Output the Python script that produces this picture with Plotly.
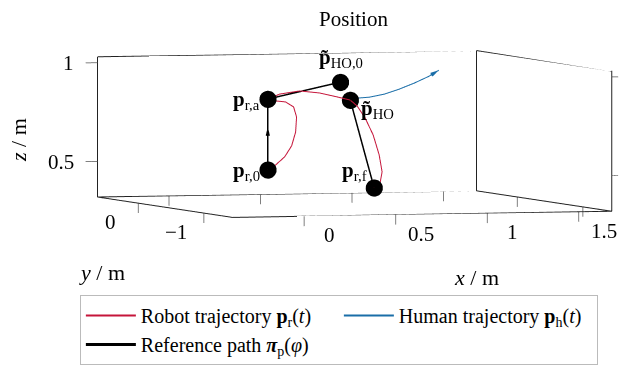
import plotly.graph_objects as go

# frame (axis limits) and ticks
x_lim = [-0.39, 1.68]
y_lim = [-1.44, 0.62]
z_lim = [0.32, 1.03]
x_ticks = [0, 0.5, 1, 1.5]
y_ticks = [-1, 0]
z_ticks = [0.5, 1]
x_ticktext = ["0", "0.5", "1", "1.5"]
y_ticktext = ["−1", "0"]
z_ticktext = ["0.5", "1"]

# robot trajectory p_r(t)
robot_x = [0.21, 0.253, 0.302, 0.34, 0.362, 0.367, 0.351, 0.307, 0.253, 0.21,
           0.289, 0.412, 0.535, 0.647, 0.732,
           0.745, 0.763, 0.782, 0.786, 0.777, 0.741, 0.683]
robot_y = [-0.3, -0.3, -0.3, -0.3, -0.3, -0.3, -0.3, -0.3, -0.3, -0.3,
           -0.26, -0.22, -0.18, -0.14, -0.1,
           -0.17, -0.24, -0.31, -0.39, -0.46, -0.53, -0.6]
robot_z = [0.495, 0.519, 0.559, 0.614, 0.684, 0.760, 0.811, 0.837, 0.843, 0.853,
           0.875, 0.887, 0.873, 0.849, 0.83,
           0.803, 0.746, 0.663, 0.566, 0.484, 0.433, 0.412]

# human trajectory p_h(t)
human_x = [0.765, 0.836, 0.917, 0.999, 1.08, 1.162, 1.216]
human_y = [-0.1, -0.1, -0.1, -0.1, -0.1, -0.1, -0.1]
human_z = [0.839, 0.843, 0.857, 0.881, 0.910, 0.944, 0.974]

# reference path pi_p(phi)
ref_x = [0.21, 0.21, 0.714, None, 0.732, 0.683]
ref_y = [-0.3, -0.3, 0.0, None, -0.1, -0.6]
ref_z = [0.495, 0.853, 0.916, None, 0.83, 0.412]

# direction arrows (reference path midpoint, human trajectory end)
ref_arrow = dict(x=[0.21], y=[-0.3], z=[0.69], u=[0.0], v=[0.0], w=[1.0])
human_arrow = dict(x=[1.216], y=[-0.1], z=[0.974], u=[0.87], v=[0.0], w=[0.49])

# key points
pt_x = [0.21, 0.21, 0.714, 0.732, 0.683]
pt_y = [-0.3, -0.3, 0.0, -0.1, -0.6]
pt_z = [0.495, 0.853, 0.916, 0.83, 0.412]
pt_labels = ["<b>p</b><sub>r,0</sub>", "<b>p</b><sub>r,a</sub>",
             "<b>p̃</b><sub>HO,0</sub>", "<b>p̃</b><sub>HO</sub>",
             "<b>p</b><sub>r,f</sub>"]

RED = "#c5153a"
BLUE = "#1a6ea8"
SERIF = "Liberation Serif"
TICKC = "#555"

# plotly axis ranges: frame limits plus room for outside tick marks
x_range = [x_lim[0] - 0.08, x_lim[1] + 0.04]
y_range = list(y_lim)
z_range = [z_lim[0] - 0.06, z_lim[1]]
tick_z = 0.05      # length of x/y tick marks (z direction)
tick_xl = 0.065    # z tick marks on left edge
tick_xr = 0.035    # z tick marks on right edge

fig = go.Figure()

# box frame built from axis limits
x0, x1 = x_lim
y0, y1 = y_lim
z0, z1 = z_lim
fx = [x0, x0, x0, x1, x1, x1, x0, None, x0, x1, x1, None, x1, x1]
fy = [y1, y1, y0, y0, y0, y1, y1, None, y1, y1, y0, None, y1, y1]
fz = [z1, z0, z0, z0, z1, z1, z1, None, z0, z0, z0, None, z0, z1]
fig.add_trace(go.Scatter3d(x=fx, y=fy, z=fz, mode="lines",
                           line=dict(color="#222", width=2),
                           showlegend=False, hoverinfo="skip"))

# tick marks built from tick values
tx, ty, tz = [], [], []
for t in x_ticks:
    for yy in (y0, y1):
        tx += [t, t, None]; ty += [yy, yy, None]; tz += [z0, z0 - tick_z, None]
for t in y_ticks:
    for xx in (x0, x1):
        tx += [xx, xx, None]; ty += [t, t, None]; tz += [z0, z0 - tick_z, None]
for t in z_ticks:
    tx += [x0, x0 - tick_xl, None]; ty += [y1, y1, None]; tz += [t, t, None]
    tx += [x1, x1 + tick_xr, None]; ty += [y0, y0, None]; tz += [t, t, None]
fig.add_trace(go.Scatter3d(x=tx, y=ty, z=tz, mode="lines",
                           line=dict(color=TICKC, width=1.5),
                           showlegend=False, hoverinfo="skip"))

fig.add_trace(go.Scatter3d(x=robot_x, y=robot_y, z=robot_z, mode="lines",
                           line=dict(color=RED, width=2),
                           name="Robot trajectory <b>p</b><sub>r</sub>(<i>t</i>)"))
fig.add_trace(go.Scatter3d(x=human_x, y=human_y, z=human_z, mode="lines",
                           line=dict(color=BLUE, width=2),
                           name="Human trajectory <b>p</b><sub>h</sub>(<i>t</i>)"))
fig.add_trace(go.Scatter3d(x=ref_x, y=ref_y, z=ref_z, mode="lines",
                           line=dict(color="black", width=3),
                           name="Reference path <b><i>π</i></b><sub>p</sub>(<i>φ</i>)"))
flat = dict(ambient=1, diffuse=0, specular=0, roughness=1, fresnel=0)
fig.add_trace(go.Cone(**ref_arrow, sizemode="absolute", sizeref=0.045, anchor="center",
                      colorscale=[[0, "black"], [1, "black"]], showscale=False,
                      lighting=flat, hoverinfo="skip", showlegend=False))
fig.add_trace(go.Cone(**human_arrow, sizemode="absolute", sizeref=0.045, anchor="tip",
                      colorscale=[[0, BLUE], [1, BLUE]], showscale=False,
                      lighting=flat, hoverinfo="skip", showlegend=False))
fig.add_trace(go.Scatter3d(x=pt_x, y=pt_y, z=pt_z, mode="markers",
                           marker=dict(color="black", size=10),
                           showlegend=False))

anns = []
shifts = [(-6, 0, "right", "middle"), (-6, 0, "right", "middle"),
          (0, 10, "center", "bottom"), (8, -8, "left", "middle"),
          (-5, 2, "right", "bottom")]
for i in range(len(pt_x)):
    xs, ys, xa, ya = shifts[i]
    anns.append(dict(x=pt_x[i], y=pt_y[i], z=pt_z[i], text=pt_labels[i],
                     showarrow=False, xshift=xs, yshift=ys, xanchor=xa, yanchor=ya,
                     font=dict(family=SERIF, size=21, color="black")))
tick_font = dict(family=SERIF, size=21, color="black")
for t, s in zip(x_ticks, x_ticktext):
    anns.append(dict(x=t, y=y0, z=z0, text=s, showarrow=False, xshift=25, yshift=-18,
                     xanchor="center", yanchor="middle", font=tick_font))
for t, s in zip(y_ticks, y_ticktext):
    anns.append(dict(x=x0, y=t, z=z0, text=s, showarrow=False, xshift=-28, yshift=-18,
                     xanchor="center", yanchor="middle", font=tick_font))
for t, s in zip(z_ticks, z_ticktext):
    anns.append(dict(x=x0, y=y1, z=t, text=s, showarrow=False, xshift=-22, yshift=0,
                     xanchor="right", yanchor="middle", font=tick_font))

r = 2.0
cx, cy, cz = 1.449, 1.580, 1.487   # scene length per data unit
axis_common = dict(showgrid=False, showbackground=False, zeroline=False,
                   showspikes=False, showline=False, ticks="", showticklabels=False,
                   title=dict(text=""))
fig.update_layout(
    width=624, height=365,
    margin=dict(l=0, r=0, t=0, b=0),
    paper_bgcolor="white",
    title=dict(text="Position", x=0.5665, xanchor="center", y=0.95, yanchor="middle",
               font=dict(family=SERIF, size=21, color="black")),
    scene=dict(
        domain=dict(x=[0.132, 0.994], y=[0.2496, 0.9796]),
        xaxis=dict(range=x_range, **axis_common),
        yaxis=dict(range=y_range, **axis_common),
        zaxis=dict(range=z_range, **axis_common),
        aspectmode="manual",
        aspectratio=dict(x=cx * (x_range[1] - x_range[0]),
                         y=cy * (y_range[1] - y_range[0]),
                         z=cz * (z_range[1] - z_range[0])),
        camera=dict(eye=dict(x=-0.312 * r, y=-0.949 * r, z=0.0497 * r),
                    up=dict(x=0, y=0, z=1), center=dict(x=0, y=0, z=0),
                    projection=dict(type="orthographic")),
        annotations=anns,
    ),
    legend=dict(orientation="h", x=0.128, y=0.192, xanchor="left", yanchor="top",
                bordercolor="#bbb", borderwidth=1, entrywidth=193, itemwidth=50,
                font=dict(family=SERIF, size=20, color="black")),
    annotations=[
        dict(text="<i>x</i> / m", x=477 / 624, y=1 - 277 / 365, xref="paper", yref="paper",
             xanchor="center", yanchor="middle",
             showarrow=False, font=dict(family=SERIF, size=22, color="black")),
        dict(text="<i>y</i> / m", x=102 / 624, y=1 - 272 / 365, xref="paper", yref="paper",
             xanchor="center", yanchor="middle",
             showarrow=False, font=dict(family=SERIF, size=22, color="black")),
        dict(text="<i>z</i> / m", x=18 / 624, y=1 - 140 / 365, xref="paper", yref="paper",
             xanchor="center", yanchor="middle",
             showarrow=False, textangle=-90, font=dict(family=SERIF, size=22, color="black")),
    ],
)
fig.write_html("out.html")
